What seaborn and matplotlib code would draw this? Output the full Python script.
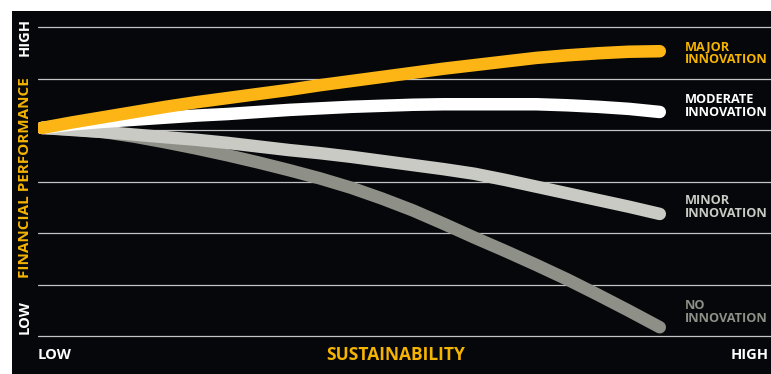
import numpy as np
import pandas as pd
import matplotlib
matplotlib.use("Agg")
import matplotlib.pyplot as plt
import seaborn as sns
from matplotlib.patches import Rectangle

# ---- data ----
sustainability = [0, 0.5, 1, 1.5, 2, 2.5, 3, 3.5, 4, 4.5, 5, 5.5, 6, 6.5, 7, 7.5, 8, 8.5, 9, 9.5, 10]
major_innovation = [4.04, 4.15, 4.25, 4.35, 4.45, 4.54, 4.62, 4.70, 4.78, 4.87, 4.95, 5.03,
                    5.11, 5.19, 5.26, 5.33, 5.40, 5.45, 5.49, 5.52, 5.53]
moderate_innovation = [4.04, 4.11, 4.16, 4.20, 4.24, 4.28, 4.31, 4.35, 4.39, 4.42, 4.45, 4.47,
                       4.49, 4.50, 4.50, 4.50, 4.50, 4.48, 4.45, 4.41, 4.35]
minor_innovation = [4.04, 4.00, 3.96, 3.91, 3.86, 3.81, 3.75, 3.68, 3.61, 3.55, 3.48, 3.40,
                    3.32, 3.24, 3.15, 3.03, 2.90, 2.77, 2.64, 2.51, 2.37]
no_innovation = [4.04, 4.01, 3.96, 3.87, 3.76, 3.64, 3.51, 3.37, 3.22, 3.06, 2.88, 2.67,
                 2.44, 2.18, 1.91, 1.65, 1.38, 1.10, 0.80, 0.49, 0.17]

series_labels = ["NO\nINNOVATION", "MINOR\nINNOVATION", "MODERATE\nINNOVATION", "MAJOR\nINNOVATION"]
series_values = [no_innovation, minor_innovation, moderate_innovation, major_innovation]
line_colors = ["#8E8F86", "#C9CAC3", "#FFFFFF", "#FDB515"]
text_colors = ["#8E8F86", "#C9CAC3", "#FFFFFF", "#F5B400"]
y_tick_labels = ["LOW", "HIGH"]
x_tick_labels = ["LOW", "HIGH"]
x_title = "SUSTAINABILITY"
y_title = "FINANCIAL PERFORMANCE"

W, H = 771, 374
BG = "#05070B"
YEL = "#F5B400"

sns.set_style("dark")
plt.rcParams["font.family"] = ["Open Sans", "DejaVu Sans"]

fig = plt.figure(figsize=(W / 100, H / 100), dpi=100, facecolor="white")
fig.patches.append(Rectangle((12 / W, 0), 1 - 12 / W, 1 - 11 / H,
                             transform=fig.transFigure, facecolor=BG,
                             edgecolor="none", zorder=-10))

ax = fig.add_axes([38 / W, (H - 346.3) / H, 1 - 38 / W, 329.6 / H])
ax.set_facecolor(BG)
ax.set_zorder(1)

df = pd.DataFrame({
    "sustainability": sustainability * len(series_labels),
    "performance": sum(series_values, []),
    "series": sum([[lab] * len(sustainability) for lab in series_labels], []),
})

for lab, col in zip(series_labels, line_colors):
    sub = df[df["series"] == lab]
    sns.lineplot(data=sub, x="sustainability", y="performance", ax=ax,
                 color=col, linewidth=9, solid_capstyle="round",
                 solid_joinstyle="round", zorder=3, legend=False)

ax.set_xlim(-0.065, 11.8)
ax.set_ylim(-0.2, 6.2)
ax.set_yticks(range(7))
ax.set_xticks([])
ax.grid(False)
ax.yaxis.grid(True, color="#C4C4C4", linewidth=0.9)
ax.set_axisbelow(True)
ax.tick_params(length=0, labelleft=False, labelbottom=False)
for s in ax.spines.values():
    s.set_visible(False)
ax.set_xlabel("")
ax.set_ylabel("")

def px(x, y):
    return x / W, 1 - y / H

# series labels at the right
label_pos = [(685, 312), (685, 207), (685, 106), (685, 53)]
for lab, tc, (xx, yy) in zip(series_labels, text_colors, label_pos):
    fig.text(*px(xx, yy), lab, color=tc, fontsize=9.2, fontweight="bold",
             ha="left", va="center", linespacing=1.0, zorder=5)

# axis texts
fig.text(*px(25, 178), y_title, color=YEL, fontsize=11, fontweight="bold",
         rotation=90, ha="center", va="center")
fig.text(*px(25, 37), y_tick_labels[1], color="white", fontsize=10.5,
         fontweight="bold", rotation=90, ha="center", va="center")
fig.text(*px(25, 317), y_tick_labels[0], color="white", fontsize=10.5,
         fontweight="bold", rotation=90, ha="center", va="center")
fig.text(*px(38, 355), x_tick_labels[0], color="white", fontsize=10.5,
         fontweight="bold", ha="left", va="center")
fig.text(*px(731, 355), x_tick_labels[1], color="white", fontsize=10.5,
         fontweight="bold", ha="left", va="center")
fig.text(*px(396, 355), x_title, color=YEL, fontsize=12.5,
         fontweight="bold", ha="center", va="center")

fig.savefig("out.png", dpi=100, facecolor="white")
